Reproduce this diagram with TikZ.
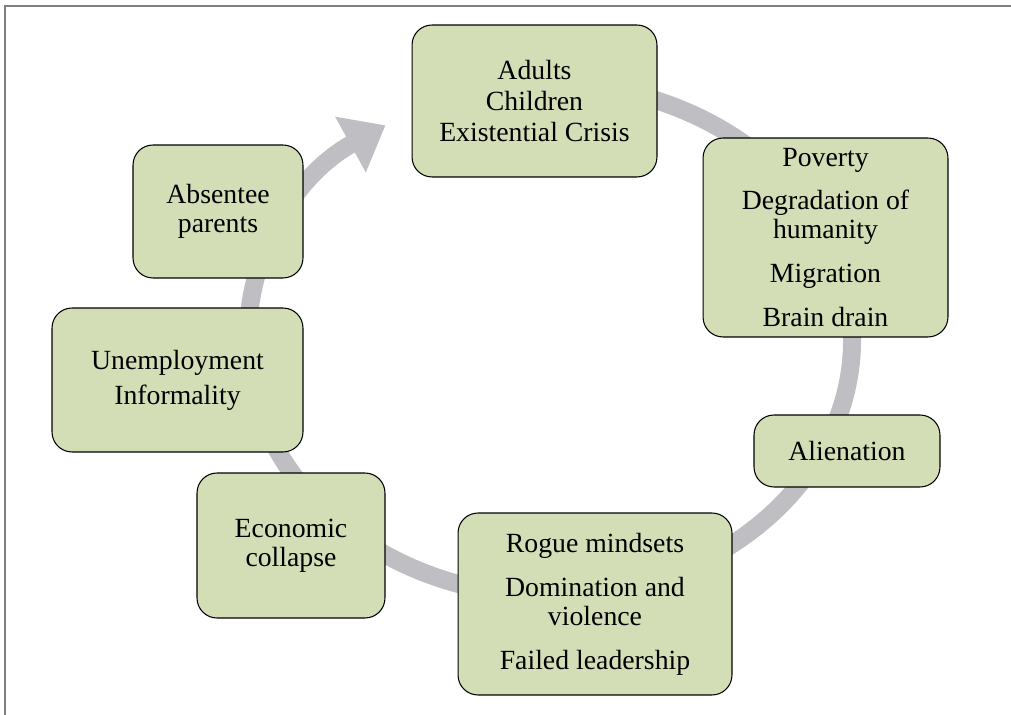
\documentclass[tikz,border=0pt]{standalone}
\usepackage{fontspec}
\setmainfont{Liberation Serif}
\usetikzlibrary{arrows.meta}
\definecolor{CyFill}{HTML}{D3DEB7}
\definecolor{CyRing}{HTML}{BFBFC3}
\definecolor{CyFrame}{HTML}{808080}
\tikzset{
  stage/.style={draw=black,line width=.6pt,fill=CyFill,rounded corners=.4cm,
    align=center,inner sep=0pt,font=\fontsize{15.8pt}{16.5pt}\selectfont},
  ring/.style={CyRing,line width=.36cm,-{Triangle[width=1.22cm,length=.8cm]}}
}

\begin{document}
\begin{tikzpicture}[x=0.02cm,y=-0.02cm]
\path[use as bounding box] (0,0) rectangle (1011,715);
\draw[CyFrame,line width=.9pt] (5,715) -- (5,6) -- (1011,6);
% the cycle ring behind the boxes
\draw[ring] (550,340) ++(-100:302 and 256)
  arc[start angle=-100,end angle=237,x radius=302,y radius=256];
\node[stage,minimum width=4.90cm,minimum height=3.04cm] (adults) at (534.5,101)
  {Adults\\[1.4pt] Children\\[1.4pt] Existential Crisis};
\node[stage,minimum width=4.90cm,minimum height=3.98cm] (poverty) at (825.5,237.5)
  {Poverty\\[8.5pt] Degradation of\\ humanity\\[8.5pt] Migration\\[8.5pt] Brain drain};
\node[stage,minimum width=3.72cm,minimum height=1.44cm] (alienation) at (847,451)
  {Alienation};
\node[stage,minimum width=5.48cm,minimum height=3.64cm] (rogue) at (595,604)
  {Rogue mindsets\\[8.5pt] Domination and\\ violence\\[8.5pt] Failed leadership};
\node[stage,minimum width=3.76cm,minimum height=2.90cm] (economic) at (291,545.5)
  {Economic\\ collapse};
\node[stage,minimum width=5.02cm,minimum height=2.88cm] (unemployment) at (177.5,380)
  {Unemployment\\[3.5pt] Informality};
\node[stage,minimum width=3.40cm,minimum height=2.66cm] (absentee) at (218,211.5)
  {Absentee\\ parents};
\end{tikzpicture}
\end{document}
